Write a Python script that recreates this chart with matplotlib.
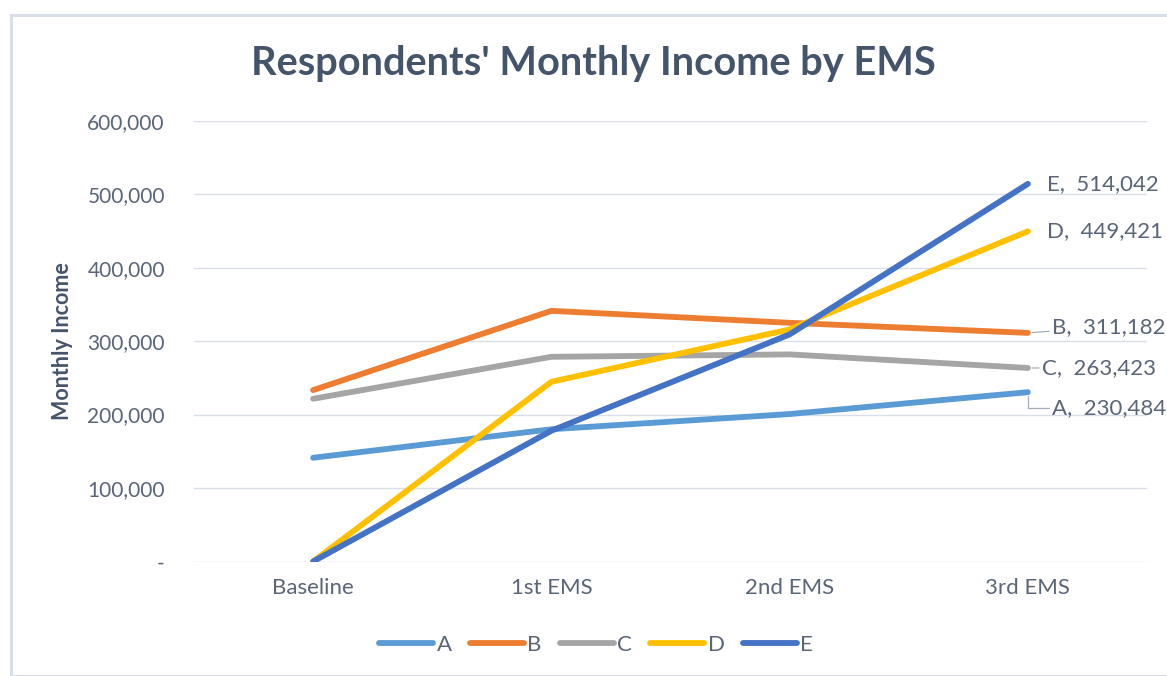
import matplotlib
matplotlib.use("Agg")
import matplotlib.pyplot as plt
from matplotlib.patches import Rectangle
from matplotlib.ticker import FuncFormatter

categories = ["Baseline", "1st EMS", "2nd EMS", "3rd EMS"]
series_names = ["A", "B", "C", "D", "E"]
A = [141200, 180000, 200700, 230484]
B = [233300, 341200, 324900, 311182]
C = [221500, 278600, 281900, 263423]
D = [0, 244600, 315900, 449421]
E = [0, 178000, 309100, 514042]
colors = ["#5B9BD5", "#ED7D31", "#A5A5A5", "#FFC000", "#4472C4"]
y_ticks = [0, 100000, 200000, 300000, 400000, 500000, 600000]

W, H = 1167, 676
fig = plt.figure(figsize=(W / 100, H / 100), dpi=100)
fig.patch.set_facecolor("white")
plt.rcParams["font.family"] = ["Lato", "DejaVu Sans"]

# chart border
fig.add_artist(Rectangle((11 / W, 0), 1.0, 1 - 15 / H, transform=fig.transFigure,
                         fill=False, edgecolor="#D9DEE8", linewidth=2.2, zorder=0))

ax = fig.add_axes([194 / W, 1 - 561.5 / H, (1147 - 194) / W, (561.5 - 120.7) / H])
tick_color = "#5A6577"
text_dark = "#44546A"

data = [A, B, C, D, E]
x = list(range(len(categories)))
for name, vals, col in zip(series_names, data, colors):
    ax.plot(x, vals, color=col, linewidth=4.2, solid_capstyle="round",
            solid_joinstyle="round", label=name, zorder=3)

ax.set_xlim(-0.5, 3.5)
ax.set_ylim(0, 600000)
ax.set_yticks(y_ticks)
ax.yaxis.set_major_formatter(FuncFormatter(lambda v, p: "-" if v == 0 else f"{int(v):,}"))
ax.set_xticks(x)
ax.set_xticklabels(categories)
ax.grid(axis="y", color="#D9DEE8", linewidth=1.0, zorder=0)
for s in ax.spines.values():
    s.set_visible(False)
ax.tick_params(axis="both", length=0, colors=tick_color)
ax.tick_params(axis="y", pad=21, labelsize=15)
ax.tick_params(axis="x", pad=12, labelsize=16)

ax.set_ylabel("Monthly Income", fontsize=15.5, fontweight="bold", color=text_dark)
ax.yaxis.set_label_coords(-121 / (1147 - 194), 0.5)

fig.text(593 / W, 1 - 64 / H, "Respondents' Monthly Income by EMS", ha="center", va="center",
         fontsize=28.6, fontweight="bold", color=text_dark)

# data labels at last point
last = 3
label_offsets = {  # (dx px, dy px) of label left-center relative to point
    "E": (19, 0),
    "D": (19, 0),
    "B": (24, 6),
    "C": (14, 0),
    "A": (24, -16),
}
for name, vals, col in zip(series_names, data, colors):
    dx, dy = label_offsets[name]
    txt = f"{name},  {vals[last]:,}"
    if name in ("B", "C", "A"):
        ax.annotate(txt, xy=(last, vals[last]), xytext=(dx, dy), textcoords="offset pixels",
                    ha="left", va="center", fontsize=16, color=tick_color,
                    arrowprops=dict(arrowstyle="-", color="#A6AEBB", lw=0.9,
                                    shrinkA=0, shrinkB=3,
                                    connectionstyle="angle,angleA=0,angleB=90,rad=0" if name == "A" else "arc3"),
                    zorder=4)
    else:
        ax.annotate(txt, xy=(last, vals[last]), xytext=(dx, dy), textcoords="offset pixels",
                    ha="left", va="center", fontsize=16, color=tick_color, zorder=4)

leg = fig.legend(loc="center", bbox_to_anchor=(596 / W, 1 - 645 / H), ncol=5, frameon=False,
                 fontsize=16, handlelength=2.45, handletextpad=0.15, columnspacing=0.8,
                 labelcolor=tick_color)

fig.savefig("out.png", dpi=100, facecolor="white")
